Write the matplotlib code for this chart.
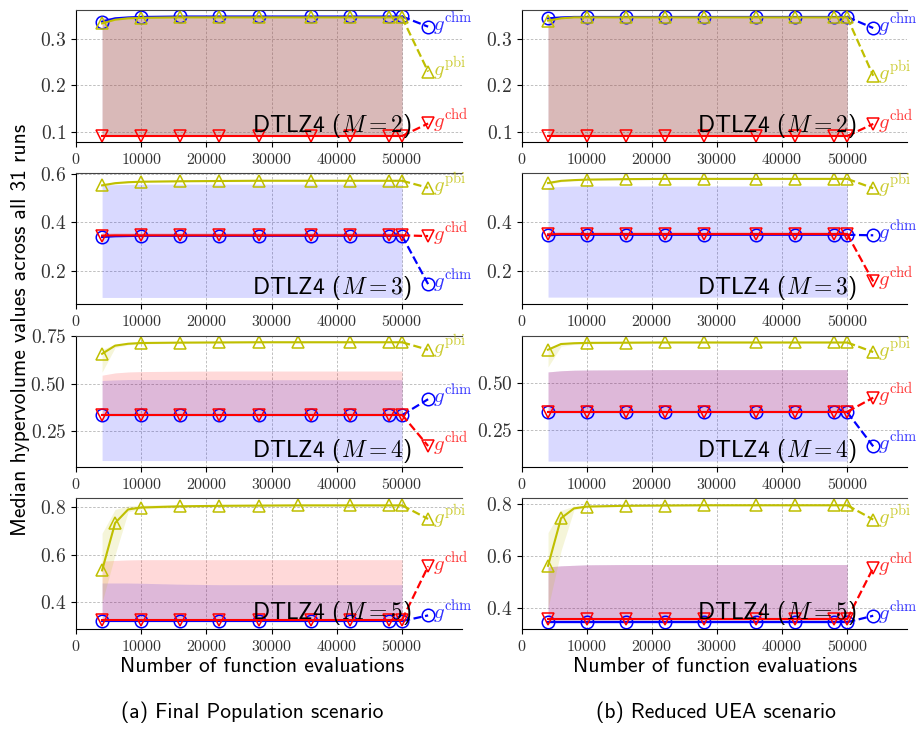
import matplotlib
matplotlib.use("Agg")
import matplotlib.pyplot as plt
from matplotlib.ticker import MultipleLocator

plt.rcParams["font.family"] = "cmr10"
plt.rcParams["mathtext.fontset"] = "cm"
plt.rcParams["axes.formatter.use_mathtext"] = True

evals = [4000, 6000, 8000, 10000, 16000, 22000, 28000, 34000, 36000, 42000, 48000, 50000]

# ---- (a) Final Population scenario ----
fp2_chm = [0.338, 0.345, 0.347, 0.348, 0.349, 0.349, 0.349, 0.349, 0.349, 0.349, 0.349, 0.349]
fp2_chm_lo = [0.092, 0.092, 0.092, 0.092, 0.092, 0.092, 0.092, 0.092, 0.092, 0.092, 0.092, 0.092]
fp2_chm_hi = [0.345, 0.348, 0.349, 0.350, 0.350, 0.350, 0.350, 0.350, 0.350, 0.350, 0.350, 0.350]
fp2_chd = [0.091, 0.091, 0.091, 0.091, 0.091, 0.091, 0.091, 0.091, 0.091, 0.091, 0.091, 0.091]
fp2_chd_lo = [0.092, 0.092, 0.092, 0.092, 0.092, 0.092, 0.092, 0.092, 0.092, 0.092, 0.092, 0.092]
fp2_chd_hi = [0.345, 0.348, 0.349, 0.349, 0.349, 0.349, 0.349, 0.349, 0.349, 0.349, 0.349, 0.349]
fp2_pbi = [0.334, 0.342, 0.345, 0.346, 0.347, 0.347, 0.347, 0.347, 0.347, 0.347, 0.347, 0.347]
fp2_pbi_lo = [0.092, 0.092, 0.092, 0.092, 0.092, 0.092, 0.092, 0.092, 0.092, 0.092, 0.092, 0.092]
fp2_pbi_hi = [0.343, 0.347, 0.348, 0.349, 0.349, 0.349, 0.349, 0.349, 0.349, 0.349, 0.349, 0.349]

fp3_chm = [0.340, 0.343, 0.344, 0.345, 0.345, 0.345, 0.345, 0.345, 0.345, 0.345, 0.345, 0.345]
fp3_chm_lo = [0.091, 0.091, 0.091, 0.091, 0.091, 0.091, 0.091, 0.091, 0.091, 0.091, 0.091, 0.091]
fp3_chm_hi = [0.553, 0.556, 0.557, 0.558, 0.558, 0.558, 0.558, 0.558, 0.558, 0.558, 0.558, 0.558]
fp3_chd = [0.346, 0.347, 0.347, 0.347, 0.347, 0.347, 0.347, 0.347, 0.347, 0.347, 0.347, 0.347]
fp3_chd_lo = [0.343, 0.343, 0.343, 0.343, 0.343, 0.343, 0.343, 0.343, 0.343, 0.343, 0.343, 0.343]
fp3_chd_hi = [0.357, 0.358, 0.358, 0.358, 0.358, 0.358, 0.358, 0.358, 0.358, 0.358, 0.358, 0.358]
fp3_pbi = [0.553, 0.562, 0.566, 0.568, 0.570, 0.571, 0.572, 0.572, 0.572, 0.572, 0.572, 0.572]
fp3_pbi_lo = [0.548, 0.558, 0.563, 0.565, 0.567, 0.568, 0.569, 0.569, 0.569, 0.569, 0.569, 0.569]
fp3_pbi_hi = [0.560, 0.567, 0.570, 0.572, 0.573, 0.574, 0.575, 0.575, 0.575, 0.575, 0.575, 0.575]

fp4_chm = [0.333, 0.333, 0.333, 0.333, 0.333, 0.333, 0.333, 0.333, 0.333, 0.333, 0.333, 0.333]
fp4_chm_lo = [0.093, 0.093, 0.093, 0.093, 0.093, 0.093, 0.093, 0.093, 0.093, 0.093, 0.093, 0.093]
fp4_chm_hi = [0.516, 0.519, 0.521, 0.521, 0.521, 0.521, 0.520, 0.520, 0.520, 0.520, 0.520, 0.520]
fp4_chd = [0.335, 0.335, 0.335, 0.335, 0.335, 0.335, 0.335, 0.335, 0.335, 0.335, 0.335, 0.335]
fp4_chd_lo = [0.333, 0.333, 0.333, 0.333, 0.333, 0.333, 0.333, 0.333, 0.333, 0.333, 0.333, 0.333]
fp4_chd_hi = [0.544, 0.556, 0.561, 0.563, 0.565, 0.566, 0.566, 0.566, 0.566, 0.566, 0.566, 0.566]
fp4_pbi = [0.657, 0.700, 0.710, 0.714, 0.716, 0.717, 0.718, 0.718, 0.718, 0.718, 0.718, 0.718]
fp4_pbi_lo = [0.560, 0.690, 0.704, 0.709, 0.712, 0.713, 0.714, 0.714, 0.714, 0.714, 0.714, 0.714]
fp4_pbi_hi = [0.680, 0.708, 0.715, 0.718, 0.720, 0.721, 0.722, 0.722, 0.722, 0.722, 0.722, 0.722]

fp5_chm = [0.321, 0.321, 0.321, 0.321, 0.321, 0.321, 0.321, 0.321, 0.321, 0.321, 0.321, 0.321]
fp5_chm_lo = [0.318, 0.318, 0.318, 0.318, 0.318, 0.318, 0.318, 0.318, 0.318, 0.318, 0.318, 0.318]
fp5_chm_hi = [0.481, 0.481, 0.481, 0.480, 0.476, 0.474, 0.474, 0.474, 0.474, 0.474, 0.474, 0.474]
fp5_chd = [0.326, 0.326, 0.326, 0.326, 0.326, 0.326, 0.326, 0.326, 0.326, 0.326, 0.326, 0.326]
fp5_chd_lo = [0.320, 0.320, 0.320, 0.320, 0.320, 0.320, 0.320, 0.320, 0.320, 0.320, 0.320, 0.320]
fp5_chd_hi = [0.573, 0.576, 0.578, 0.579, 0.579, 0.579, 0.579, 0.579, 0.579, 0.579, 0.579, 0.579]
fp5_pbi = [0.534, 0.733, 0.790, 0.798, 0.803, 0.805, 0.806, 0.807, 0.807, 0.807, 0.807, 0.807]
fp5_pbi_lo = [0.400, 0.600, 0.780, 0.792, 0.798, 0.800, 0.801, 0.802, 0.802, 0.802, 0.802, 0.802]
fp5_pbi_hi = [0.690, 0.790, 0.805, 0.808, 0.810, 0.811, 0.812, 0.812, 0.812, 0.812, 0.812, 0.812]

# ---- (b) Reduced UEA scenario ----
ru2_chm = [0.345, 0.347, 0.348, 0.348, 0.348, 0.348, 0.348, 0.348, 0.348, 0.348, 0.348, 0.348]
ru2_chm_lo = [0.092, 0.092, 0.092, 0.092, 0.092, 0.092, 0.092, 0.092, 0.092, 0.092, 0.092, 0.092]
ru2_chm_hi = [0.347, 0.349, 0.350, 0.350, 0.350, 0.350, 0.350, 0.350, 0.350, 0.350, 0.350, 0.350]
ru2_chd = [0.091, 0.091, 0.091, 0.091, 0.091, 0.091, 0.091, 0.091, 0.091, 0.091, 0.091, 0.091]
ru2_chd_lo = [0.092, 0.092, 0.092, 0.092, 0.092, 0.092, 0.092, 0.092, 0.092, 0.092, 0.092, 0.092]
ru2_chd_hi = [0.346, 0.348, 0.349, 0.349, 0.349, 0.349, 0.349, 0.349, 0.349, 0.349, 0.349, 0.349]
ru2_pbi = [0.340, 0.345, 0.347, 0.347, 0.347, 0.347, 0.347, 0.347, 0.347, 0.347, 0.347, 0.347]
ru2_pbi_lo = [0.092, 0.092, 0.092, 0.092, 0.092, 0.092, 0.092, 0.092, 0.092, 0.092, 0.092, 0.092]
ru2_pbi_hi = [0.345, 0.348, 0.349, 0.349, 0.349, 0.349, 0.349, 0.349, 0.349, 0.349, 0.349, 0.349]

ru3_chm = [0.344, 0.346, 0.346, 0.346, 0.346, 0.346, 0.346, 0.346, 0.346, 0.346, 0.346, 0.346]
ru3_chm_lo = [0.092, 0.092, 0.092, 0.092, 0.092, 0.092, 0.092, 0.092, 0.092, 0.092, 0.092, 0.092]
ru3_chm_hi = [0.540, 0.543, 0.545, 0.545, 0.545, 0.545, 0.545, 0.545, 0.545, 0.545, 0.545, 0.545]
ru3_chd = [0.348, 0.349, 0.349, 0.349, 0.349, 0.349, 0.349, 0.349, 0.349, 0.349, 0.349, 0.349]
ru3_chd_lo = [0.346, 0.346, 0.346, 0.346, 0.346, 0.346, 0.346, 0.346, 0.346, 0.346, 0.346, 0.346]
ru3_chd_hi = [0.358, 0.360, 0.360, 0.360, 0.360, 0.360, 0.360, 0.360, 0.360, 0.360, 0.360, 0.360]
ru3_pbi = [0.557, 0.566, 0.569, 0.571, 0.573, 0.574, 0.574, 0.574, 0.574, 0.574, 0.574, 0.574]
ru3_pbi_lo = [0.552, 0.562, 0.566, 0.568, 0.570, 0.571, 0.571, 0.571, 0.571, 0.571, 0.571, 0.571]
ru3_pbi_hi = [0.562, 0.570, 0.572, 0.574, 0.576, 0.577, 0.577, 0.577, 0.577, 0.577, 0.577, 0.577]

ru4_chm = [0.345, 0.345, 0.345, 0.345, 0.345, 0.345, 0.345, 0.345, 0.345, 0.345, 0.345, 0.345]
ru4_chm_lo = [0.089, 0.089, 0.089, 0.089, 0.089, 0.089, 0.089, 0.089, 0.089, 0.089, 0.089, 0.089]
ru4_chm_hi = [0.556, 0.562, 0.565, 0.566, 0.567, 0.568, 0.568, 0.568, 0.568, 0.568, 0.568, 0.568]
ru4_chd = [0.347, 0.347, 0.347, 0.347, 0.347, 0.347, 0.347, 0.347, 0.347, 0.347, 0.347, 0.347]
ru4_chd_lo = [0.346, 0.346, 0.346, 0.346, 0.346, 0.346, 0.346, 0.346, 0.346, 0.346, 0.346, 0.346]
ru4_chd_hi = [0.556, 0.562, 0.565, 0.566, 0.567, 0.568, 0.568, 0.568, 0.568, 0.568, 0.568, 0.568]
ru4_pbi = [0.672, 0.702, 0.706, 0.708, 0.709, 0.710, 0.710, 0.710, 0.710, 0.710, 0.710, 0.710]
ru4_pbi_lo = [0.582, 0.690, 0.700, 0.703, 0.705, 0.706, 0.706, 0.706, 0.706, 0.706, 0.706, 0.706]
ru4_pbi_hi = [0.680, 0.708, 0.712, 0.714, 0.715, 0.716, 0.716, 0.716, 0.716, 0.716, 0.716, 0.716]

ru5_chm = [0.345, 0.345, 0.345, 0.345, 0.345, 0.345, 0.345, 0.345, 0.345, 0.345, 0.345, 0.345]
ru5_chm_lo = [0.340, 0.340, 0.340, 0.340, 0.340, 0.340, 0.340, 0.340, 0.340, 0.340, 0.340, 0.340]
ru5_chm_hi = [0.558, 0.562, 0.564, 0.566, 0.567, 0.567, 0.567, 0.567, 0.567, 0.567, 0.567, 0.567]
ru5_chd = [0.357, 0.357, 0.357, 0.357, 0.357, 0.357, 0.357, 0.357, 0.357, 0.357, 0.357, 0.357]
ru5_chd_lo = [0.352, 0.352, 0.352, 0.352, 0.352, 0.352, 0.352, 0.352, 0.352, 0.352, 0.352, 0.352]
ru5_chd_hi = [0.558, 0.562, 0.564, 0.566, 0.567, 0.567, 0.567, 0.567, 0.567, 0.567, 0.567, 0.567]
ru5_pbi = [0.562, 0.745, 0.783, 0.790, 0.793, 0.794, 0.795, 0.795, 0.795, 0.795, 0.795, 0.795]
ru5_pbi_lo = [0.400, 0.620, 0.778, 0.786, 0.790, 0.791, 0.792, 0.792, 0.792, 0.792, 0.792, 0.792]
ru5_pbi_hi = [0.690, 0.775, 0.792, 0.795, 0.797, 0.798, 0.798, 0.798, 0.798, 0.798, 0.798, 0.798]

# y positions of the end-of-line labels (chm, chd, pbi)
fp_label_y = [[0.327, 0.118, 0.230], [0.146, 0.344, 0.543], [0.417, 0.170, 0.678], [0.345, 0.551, 0.750]]
ru_label_y = [[0.324, 0.117, 0.221], [0.344, 0.156, 0.536], [0.166, 0.421, 0.660], [0.370, 0.554, 0.740]]

n_objectives = [2, 3, 4, 5]
label_x = 54000

STYLE = {"chm": ("b", "o"), "chd": ("r", "v"), "pbi": ("y", "^")}
ORDER = ["chm", "chd", "pbi"]
MARK_STD = [0, 3, 4, 5, 6, 8, 9, 10, 11]

fp_panels = [
    {"chm": (fp2_chm, fp2_chm_lo, fp2_chm_hi), "chd": (fp2_chd, fp2_chd_lo, fp2_chd_hi), "pbi": (fp2_pbi, fp2_pbi_lo, fp2_pbi_hi)},
    {"chm": (fp3_chm, fp3_chm_lo, fp3_chm_hi), "chd": (fp3_chd, fp3_chd_lo, fp3_chd_hi), "pbi": (fp3_pbi, fp3_pbi_lo, fp3_pbi_hi)},
    {"chm": (fp4_chm, fp4_chm_lo, fp4_chm_hi), "chd": (fp4_chd, fp4_chd_lo, fp4_chd_hi), "pbi": (fp4_pbi, fp4_pbi_lo, fp4_pbi_hi)},
    {"chm": (fp5_chm, fp5_chm_lo, fp5_chm_hi), "chd": (fp5_chd, fp5_chd_lo, fp5_chd_hi), "pbi": (fp5_pbi, fp5_pbi_lo, fp5_pbi_hi)},
]
ru_panels = [
    {"chm": (ru2_chm, ru2_chm_lo, ru2_chm_hi), "chd": (ru2_chd, ru2_chd_lo, ru2_chd_hi), "pbi": (ru2_pbi, ru2_pbi_lo, ru2_pbi_hi)},
    {"chm": (ru3_chm, ru3_chm_lo, ru3_chm_hi), "chd": (ru3_chd, ru3_chd_lo, ru3_chd_hi), "pbi": (ru3_pbi, ru3_pbi_lo, ru3_pbi_hi)},
    {"chm": (ru4_chm, ru4_chm_lo, ru4_chm_hi), "chd": (ru4_chd, ru4_chd_lo, ru4_chd_hi), "pbi": (ru4_pbi, ru4_pbi_lo, ru4_pbi_hi)},
    {"chm": (ru5_chm, ru5_chm_lo, ru5_chm_hi), "chd": (ru5_chd, ru5_chd_lo, ru5_chd_hi), "pbi": (ru5_pbi, ru5_pbi_lo, ru5_pbi_hi)},
]

fp_ylims = [(0.078, 0.363), (0.064, 0.604), (0.059, 0.751), (0.288, 0.838)]
ru_ylims = [(0.078, 0.363), (0.064, 0.598), (0.058, 0.744), (0.319, 0.823)]
ystep = [0.1, 0.2, 0.25, 0.2]
fp_pbi_marks = [MARK_STD, MARK_STD, [0, 3, 4, 5, 6, 7, 9, 10, 11], [0, 1, 3, 4, 5, 6, 7, 9, 10, 11]]
ru_pbi_marks = [MARK_STD, MARK_STD, MARK_STD, [0, 1, 3, 4, 5, 6, 8, 9, 10, 11]]


def draw_panel(ax, panel, label_y, m, ylim, step, pbi_marks):
    for key in ORDER:
        med, lo, hi = panel[key]
        ax.fill_between(evals, lo, hi, color=STYLE[key][0], alpha=0.15, lw=0)
    for key, ly in zip(ORDER, label_y):
        col, mk = STYLE[key]
        med = panel[key][0]
        every = pbi_marks if key == "pbi" else MARK_STD
        ax.plot(evals, med, color=col, lw=1.5, marker=mk, mfc="none", ms=9,
                mew=1.1, markevery=every)
        ax.plot([evals[-1], label_x], [med[-1], ly], color=col, lw=1.6, ls="--",
                marker=mk, mfc="none", ms=9, mew=1.1, markevery=[1], clip_on=False)
        ax.annotate(r"$g^{\mathrm{%s}}$" % key, (label_x, ly), xytext=(3.5, -3),
                    textcoords="offset points", color=col, alpha=0.8, fontsize=15,
                    ha="left", va="baseline", annotation_clip=False)
    ax.text(0.87, 0.078, r"DTLZ4 ($M=%d$)" % m, transform=ax.transAxes,
            ha="right", va="baseline", fontsize=17, family="cmss10")
    ax.set_xlim(0, 59200)
    ax.set_ylim(*ylim)
    ax.yaxis.set_major_locator(MultipleLocator(step))
    ax.xaxis.set_major_locator(MultipleLocator(10000))
    ax.grid(True, ls=(0, (3, 2)), lw=0.6, color="#b5b5b5")
    ax.set_axisbelow(True)
    ax.spines["right"].set_visible(False)
    ax.spines["top"].set_color("#444444")
    ax.tick_params(axis="y", labelsize=14, labelcolor="#333333")
    ax.tick_params(axis="x", labelsize=11.5, labelcolor="#333333")


fig = plt.figure(figsize=(9.2, 7.29), dpi=100)
bottoms = [0.8052, 0.583, 0.3594, 0.1372]
heights = [0.1811, 0.1797, 0.1797, 0.1797]
for i in range(4):
    axl = fig.add_axes([0.0826, bottoms[i], 0.4196, heights[i]])
    draw_panel(axl, fp_panels[i], fp_label_y[i], n_objectives[i], fp_ylims[i], ystep[i], fp_pbi_marks[i])
    axr = fig.add_axes([0.5674, bottoms[i], 0.4185, heights[i]])
    draw_panel(axr, ru_panels[i], ru_label_y[i], n_objectives[i], ru_ylims[i], ystep[i], ru_pbi_marks[i])

fig.text(0.022, 0.547, "Median hypervolume values across all 31 runs", rotation=90,
         ha="center", va="center", fontsize=15.5, family="cmss10")
fig.text(0.285, 0.086, "Number of function evaluations", ha="center", va="center",
         fontsize=15.5, family="cmss10")
fig.text(0.777, 0.086, "Number of function evaluations", ha="center", va="center",
         fontsize=15.5, family="cmss10")
fig.text(0.274, 0.023, "(a) Final Population scenario", ha="center", va="center",
         fontsize=15.5, family="cmss10")
fig.text(0.778, 0.023, "(b) Reduced UEA scenario", ha="center", va="center",
         fontsize=15.5, family="cmss10")

fig.savefig("out.png", dpi=100)
